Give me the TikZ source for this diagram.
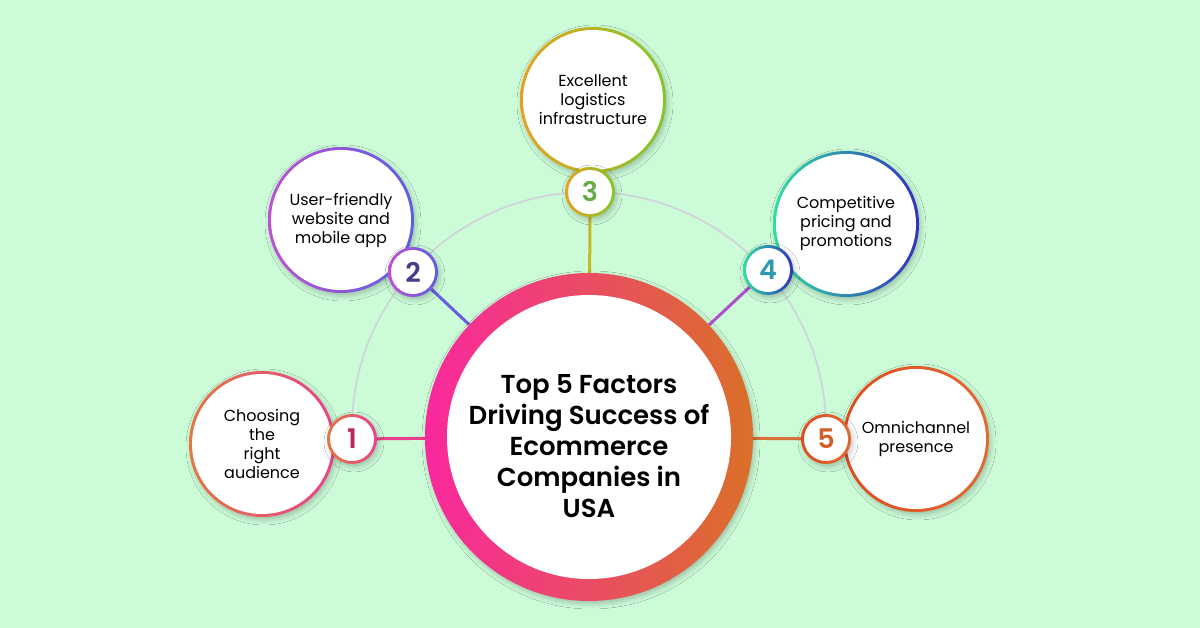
\documentclass[tikz,border=0pt]{standalone}
\usepackage{fontspec}
\setmainfont{Poppins}[BoldFont={Poppins SemiBold}]
\usetikzlibrary{shadows.blur}
\pgfdeclarelayer{bg}
\pgfsetlayers{bg,main}
\definecolor{bgc}{RGB}{204,251,216}
\definecolor{arcgray}{RGB}{208,210,216}
\definecolor{ctrL}{RGB}{250,40,158}
\definecolor{ctrR}{RGB}{218,112,40}
\definecolor{oneA}{RGB}{226,120,64}
\definecolor{oneB}{RGB}{234,64,140}
\definecolor{oneN}{RGB}{184,38,94}
\definecolor{twoA}{RGB}{192,80,210}
\definecolor{twoB}{RGB}{90,96,224}
\definecolor{twoN}{RGB}{74,58,138}
\definecolor{threeA}{RGB}{232,160,32}
\definecolor{threeB}{RGB}{128,200,40}
\definecolor{threeN}{RGB}{106,170,72}
\definecolor{threeL}{RGB}{200,184,40}
\definecolor{fourA}{RGB}{46,224,160}
\definecolor{fourB}{RGB}{48,48,192}
\definecolor{fourN}{RGB}{46,152,176}
\definecolor{fourL}{RGB}{176,80,200}
\definecolor{fiveA}{RGB}{224,74,32}
\definecolor{fiveB}{RGB}{224,106,48}
\definecolor{fiveN}{RGB}{208,96,42}
\definecolor{fiveL}{RGB}{216,112,58}
\tikzset{
  ring/.style n args={4}{circle, inner sep=0pt, minimum size=#1, left color=#3, right color=#4,
    path picture={\fill[white] (path picture bounding box.center) circle[radius=#2];},
    align=center, text=black},
  shadowed/.style={blur shadow={shadow xshift=2pt, shadow yshift=-3pt, shadow blur radius=5pt, shadow opacity=22}},
  labeltxt/.style={font=\fontsize{16}{19}\selectfont},
  numtxt/.style={font=\bfseries\fontsize{27}{30}\selectfont},
  titletxt/.style={font=\bfseries\fontsize{26}{31}\selectfont},
  link/.style={line width=3pt},
}
\begin{document}
\begin{tikzpicture}[x=1pt,y=1pt]
\useasboundingbox (0,0) rectangle (1200,628);
% central
\node[ring={328pt}{142pt}{ctrL}{ctrR}, shadowed, titletxt] (ctr) at (589,191)
  {\raisebox{-18.5pt}[0pt][0pt]{\begin{tabular}{@{}c@{}}Top 5 Factors\\Driving Success of\\Ecommerce\\Companies in\\USA\end{tabular}}};
% big circles
\node[ring={146pt}{70pt}{oneA}{oneB}, shadowed, labeltxt] (b1) at (262,184) {Choosing\\the\\right\\audience};
\node[ring={146pt}{70pt}{twoA}{twoB}, shadowed, labeltxt] (b2) at (341,408) {User-friendly\\website and\\mobile app};
\node[ring={146pt}{70pt}{threeA}{threeB}, shadowed, labeltxt] (b3) at (593,528) {Excellent\\logistics\\infrastructure};
\node[ring={146pt}{70pt}{fourA}{fourB}, shadowed, labeltxt] (b4) at (846,404) {Competitive\\pricing and\\promotions};
\node[ring={146pt}{70pt}{fiveA}{fiveB}, shadowed, labeltxt] (b5) at (916,189) {Omnichannel\\presence};
% small number circles
\node[ring={50pt}{22pt}{oneA}{oneB}, shadowed, numtxt, text=oneN] (s1) at (352,189) {1};
\node[ring={50pt}{22pt}{twoA}{twoB}, shadowed, numtxt, text=twoN] (s2) at (413,356) {2};
\node[ring={50pt}{22pt}{threeA}{threeB}, shadowed, numtxt, text=threeN] (s3) at (590,436) {3};
\node[ring={50pt}{22pt}{fourA}{fourB}, shadowed, numtxt, text=fourN] (s4) at (768,358) {4};
\node[ring={50pt}{22pt}{fiveA}{fiveB}, shadowed, numtxt, text=fiveN] (s5) at (826,189) {5};
\begin{pgfonlayer}{bg}
  \fill[bgc] (0,0) rectangle (1200,628);
  \coordinate (arcc) at (589,199);
  \draw[arcgray, line width=1.6pt] (arcc) ++(180:237) arc[start angle=180, end angle=0, radius=237];
  \draw[link, oneB] (s1) -- (ctr);
  \draw[link, twoB!85!twoA] (s2) -- (ctr);
  \draw[link, threeL] (s3) -- (ctr);
  \draw[link, fourL] (s4) -- (ctr);
  \draw[link, fiveL] (s5) -- (ctr);
\end{pgfonlayer}
\end{tikzpicture}
\end{document}
